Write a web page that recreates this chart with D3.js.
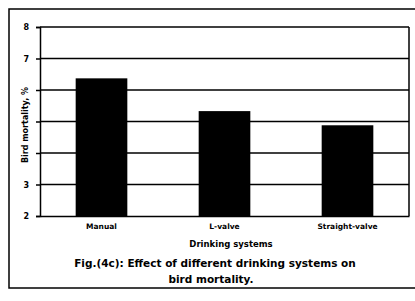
<!DOCTYPE html>
<html><head><meta charset="utf-8">
<script src="https://cdn.jsdelivr.net/npm/d3@7"></script>
<style>body{margin:0;background:#fff}svg{display:block}text{font-family:"DejaVu Sans",sans-serif;font-weight:bold;fill:#000}</style>
</head><body>
<svg id="c" width="415" height="301"></svg>
<script>
const categories = ["Manual", "L-valve", "Straight-valve"];
const mortality = [6.37, 5.33, 4.88];
const yTicks = [2, 3, 4, 5, 6, 7, 8];
const yTickLabels = ["2", "3", "", "", "", "7", "8"]; // 4–6 hidden behind the axis title in the original

const svg = d3.select("#c");
const FF = "DejaVu Sans, sans-serif";
const m = {l: 40, r: 409, t: 27, b: 216};
const x = d3.scaleBand().domain(categories).range([m.l, m.r]).paddingInner(0.58).paddingOuter(0.29);
const y = d3.scaleLinear().domain([2, 8]).range([m.b, m.t]);

// outer frame
svg.append("rect").attr("x", 9).attr("y", 9).attr("width", 420).attr("height", 279)
  .attr("fill", "none").attr("stroke", "#000").attr("stroke-width", 1.5);

// gridlines
svg.append("g").selectAll("line").data(yTicks.slice(1)).join("line")
  .attr("x1", m.l).attr("x2", m.r).attr("y1", d => y(d)).attr("y2", d => y(d))
  .attr("stroke", "#000").attr("stroke-width", 1.5);
svg.append("line").attr("x1", m.r).attr("x2", m.r).attr("y1", m.t).attr("y2", m.b)
  .attr("stroke", "#000").attr("stroke-width", 1.5);

// bars
svg.append("g").selectAll("rect").data(categories).join("rect")
  .attr("x", d => x(d)).attr("width", x.bandwidth())
  .attr("y", (d, i) => y(mortality[i])).attr("height", (d, i) => y(2) - y(mortality[i]))
  .attr("fill", "#000");

// axes
const ya = svg.append("g").attr("transform", `translate(${m.l},0)`)
  .call(d3.axisLeft(y).tickValues(yTicks).tickSize(4).tickPadding(7)
    .tickFormat((d, i) => yTickLabels[i]));
ya.select(".domain").attr("stroke-width", 1.5);
ya.selectAll("line").attr("stroke-width", 1.5);
ya.selectAll("text").attr("font-size", 8).attr("font-weight", "bold").attr("font-family", FF);

const xa = svg.append("g").attr("transform", `translate(0,${m.b})`)
  .call(d3.axisBottom(x).tickSize(0).tickPadding(8));
xa.select(".domain").attr("stroke-width", 1.5);
xa.selectAll("text").attr("font-size", 7.5).attr("font-weight", "bold").attr("font-family", FF);

// axis titles
svg.append("text").attr("transform", "translate(28,125) rotate(-90)").attr("text-anchor", "middle")
  .attr("font-size", 8).text("Bird mortality, %");
svg.append("text").attr("x", 231).attr("y", 247).attr("text-anchor", "middle")
  .attr("font-size", 8.5).text("Drinking systems");

// caption
svg.append("text").attr("x", 215).attr("y", 267).attr("text-anchor", "middle")
  .attr("font-size", 10.5).text("Fig.(4c): Effect of different drinking systems on");
svg.append("text").attr("x", 211).attr("y", 283).attr("text-anchor", "middle")
  .attr("font-size", 10.5).text("bird mortality.");
</script>
</body></html>
